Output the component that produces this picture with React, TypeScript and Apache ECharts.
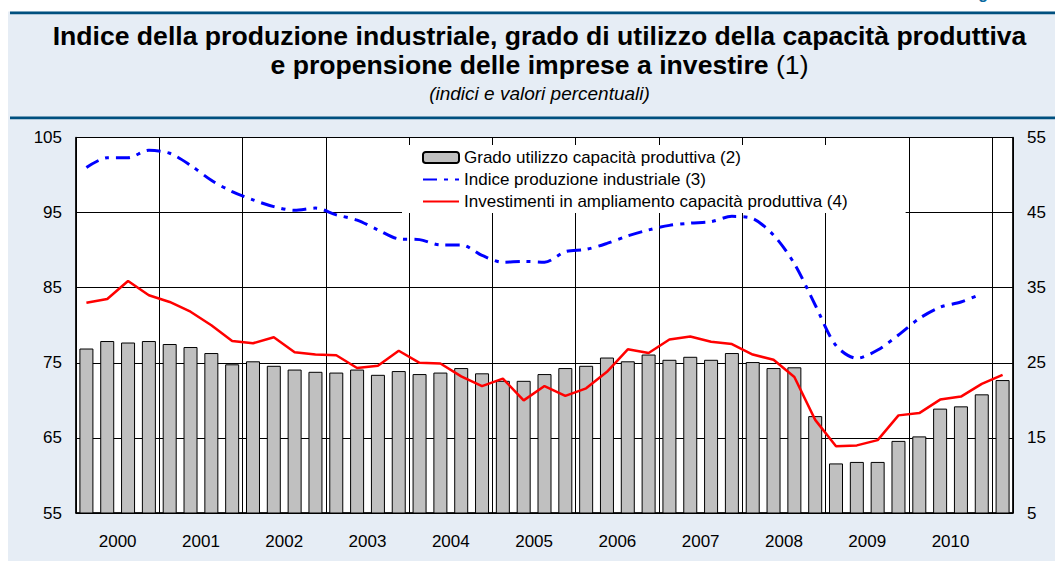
import React, { useEffect, useRef } from "react";
import * as echarts from "echarts";

const FONT = '"Liberation Sans", Arial, Helvetica, sans-serif';

const years = ["2000", "2001", "2002", "2003", "2004", "2005", "2006", "2007", "2008", "2009", "2010", "2011"];
const quarters = ["T1", "T2", "T3", "T4"];
// 2000 T1 ... 2011 T1 (45 quarters)
const categories: string[] = [];
years.forEach((y) => quarters.forEach((q) => categories.push(`${y} ${q}`)));
categories.splice(45);

const yearLabels = ["2000", "2001", "2002", "2003", "2004", "2005", "2006", "2007", "2008", "2009", "2010"];

// Grado utilizzo capacità produttiva (left axis)
const utilizzo = [
  76.9, 77.9, 77.7, 77.9,
  77.5, 77.1, 76.3, 74.8,
  75.2, 74.6, 74.1, 73.8,
  73.7, 74.1, 73.4, 73.9,
  73.5, 73.7, 74.3, 73.6,
  72.6, 72.6, 73.5, 74.3,
  74.6, 75.7, 75.2, 76.1,
  75.4, 75.8, 75.4, 76.3,
  75.1, 74.3, 74.4, 67.9,
  61.6, 61.8, 61.8, 64.6,
  65.2, 68.9, 69.2, 70.8,
  72.7,
];

// Indice produzione industriale (left axis)
const produzione = [
  101.0, 102.3, 102.3, 103.3,
  102.9, 101.3, 99.3, 97.8,
  96.7, 95.8, 95.3, 95.6,
  94.7, 94.0, 92.7, 91.5,
  91.4, 90.7, 90.7, 89.3,
  88.4, 88.5, 88.4, 89.8,
  90.1, 90.9, 91.9, 92.7,
  93.3, 93.6, 93.8, 94.5,
  94.2, 92.0, 88.2, 82.7,
  77.3, 75.6, 76.7, 78.7,
  80.9, 82.4, 83.1, 84.2,
  null,
];

// Investimenti in ampliamento capacità produttiva (right axis)
const investimenti = [
  33.0, 33.5, 35.9, 34.0,
  33.1, 31.8, 30.0, 27.9,
  27.6, 28.4, 26.4, 26.1,
  26.0, 24.3, 24.6, 26.6,
  25.0, 24.9, 23.2, 21.9,
  22.9, 20.0, 21.9, 20.6,
  21.6, 23.8, 26.8, 26.3,
  28.1, 28.5, 27.8, 27.5,
  26.1, 25.4, 23.1, 17.4,
  13.9, 14.0, 14.7, 18.0,
  18.3, 20.1, 20.5, 22.2,
  23.4,
];

const names = [
  "Grado utilizzo capacità produttiva (2)",
  "Indice produzione industriale (3)",
  "Investimenti in ampliamento capacità produttiva (4)",
];

const yearCenters = yearLabels.map((_, i) => i * 4 + 2);

export default function App() {
  const ref = useRef<HTMLDivElement>(null);

  useEffect(() => {
    document.body.style.margin = "0";
    if (!ref.current) return;
    const chart = echarts.init(ref.current, null, { renderer: "svg" });
    const darkBlue = "#00507f";
    chart.setOption({
      animation: false,
      backgroundColor: "#e6edf5",
      textStyle: { fontFamily: FONT },
      graphic: [
        { type: "rect", shape: { x: 0, y: 0, width: 8, height: 561 }, style: { fill: "#fff" }, silent: true },
        { type: "rect", shape: { x: 0, y: 0, width: 1055, height: 11.5 }, style: { fill: "#fff" }, silent: true },
        { type: "rect", shape: { x: 10, y: 11.5, width: 1045, height: 2.8 }, style: { fill: darkBlue }, silent: true },
        { type: "rect", shape: { x: 10, y: 116.5, width: 1045, height: 2.8 }, style: { fill: darkBlue }, silent: true },
        {
          type: "text", x: 964, y: -6.2, silent: true,
          style: { text: "Figura", fontSize: 16, fontWeight: "bold", fontFamily: FONT, fill: "#0a6aa0", align: "left", verticalAlign: "middle" },
        },
        {
          type: "text", x: 539.5, y: 35.5, silent: true,
          style: {
            text: "Indice della produzione industriale, grado di utilizzo della capacità produttiva",
            fontSize: 26.6, fontWeight: "bold", fontFamily: FONT, fill: "#000", align: "center", verticalAlign: "middle",
          },
        },
        {
          type: "text", x: 539.5, y: 64.5, silent: true,
          style: {
            text: "{b|e propensione delle imprese a investire}{n| (1)}",
            align: "center", verticalAlign: "middle",
            rich: {
              b: { fontSize: 26.6, fontWeight: "bold", fontFamily: FONT, fill: "#000" },
              n: { fontSize: 26.6, fontWeight: "normal", fontFamily: FONT, fill: "#000" },
            },
          },
        },
        {
          type: "text", x: 539.5, y: 93, silent: true,
          style: {
            text: "(indici e valori percentuali)",
            fontSize: 19, fontStyle: "italic", fontFamily: FONT, fill: "#000", align: "center", verticalAlign: "middle",
          },
        },
      ],
      grid: {
        left: 76, top: 137.5, right: 42, bottom: 48,
        containLabel: false, outerBoundsMode: "none",
        show: true, backgroundColor: "#fff", borderColor: "#000", borderWidth: 1,
      },
      legend: {
        orient: "vertical", left: 402, top: 145,
        itemWidth: 36, itemHeight: 11, itemGap: 5,
        padding: [4, 58, 3, 20], backgroundColor: "#fff",
        textStyle: { fontSize: 17, color: "#000", fontFamily: FONT },
        data: [
          { name: names[0] },
          { name: names[1], itemStyle: { opacity: 0 } },
          { name: names[2], itemStyle: { opacity: 0 } },
        ],
      },
      xAxis: [
        {
          type: "category", data: categories, boundaryGap: true, position: "bottom",
          axisLine: { show: true, lineStyle: { color: "#000", width: 1.5 } },
          axisTick: { show: false }, axisLabel: { show: false }, splitLine: { show: false },
        },
        {
          type: "value", min: 0, max: 45, interval: 4, position: "bottom",
          axisLine: { show: false }, axisTick: { show: false },
          splitLine: { show: true, lineStyle: { color: "#000", width: 1 } },
          axisLabel: {
            show: true, customValues: yearCenters, margin: 20,
            fontSize: 17, color: "#000", fontFamily: FONT,
            formatter: (v: number) => yearLabels[Math.round((v - 2) / 4)] ?? "",
          },
        },
      ],
      yAxis: [
        {
          type: "value", min: 55, max: 105, interval: 10, position: "left",
          axisLine: { show: true, lineStyle: { color: "#000", width: 1.5 } },
          axisTick: { show: false },
          axisLabel: { fontSize: 17, color: "#000", margin: 14, fontFamily: FONT },
          splitLine: { show: true, lineStyle: { color: "#000", width: 1 } },
        },
        {
          type: "value", min: 5, max: 55, interval: 10, position: "right",
          axisLine: { show: true, lineStyle: { color: "#000", width: 1.5 } },
          axisTick: { show: false },
          axisLabel: { fontSize: 17, color: "#000", margin: 14, fontFamily: FONT },
          splitLine: { show: false },
        },
      ],
      series: [
        {
          name: names[0], type: "bar", xAxisIndex: 0, yAxisIndex: 0, data: utilizzo,
          barWidth: 14,
          itemStyle: { color: "#c0c0c0", borderColor: "#000", borderWidth: 1 },
        },
        {
          name: names[1], type: "line", xAxisIndex: 0, yAxisIndex: 0, data: produzione,
          symbol: "none", smooth: 0.3, connectNulls: false,
          lineStyle: { color: "#0000ff", width: 3, type: [14, 7, 4, 7] },
          itemStyle: { color: "#0000ff" },
        },
        {
          name: names[2], type: "line", xAxisIndex: 0, yAxisIndex: 1, data: investimenti,
          symbol: "none",
          lineStyle: { color: "#ff0000", width: 2.5 },
          itemStyle: { color: "#ff0000" },
        },
      ],
    });
    return () => chart.dispose();
  }, []);

  return <div ref={ref} style={{ width: 1055, height: 561 }} />;
}
